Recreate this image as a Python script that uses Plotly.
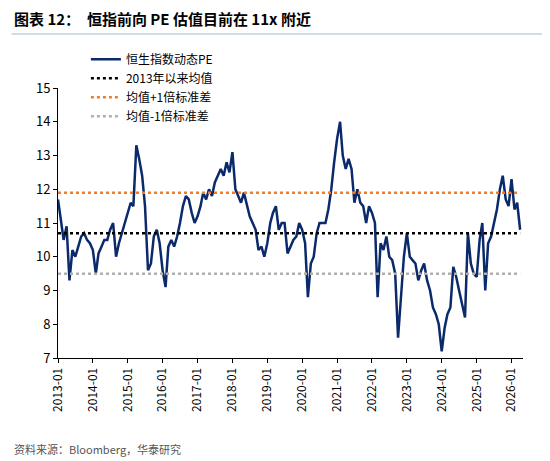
import pandas as pd
import plotly.graph_objects as go

# Monthly PE readings, 2013-01 .. 2026-04
pe_values = [
    11.7, 11.0, 10.5, 10.9, 9.3, 10.2, 10.0, 10.3, 10.6, 10.7, 10.5, 10.4,  # 2013
    10.2, 9.5, 10.1, 10.3, 10.5, 10.5, 10.8, 11.0, 10.0, 10.4, 10.7, 11.0,  # 2014
    11.3, 11.6, 11.5, 13.3, 12.9, 12.4, 11.5, 9.6, 9.8, 10.6, 10.8, 10.4,  # 2015
    9.6, 9.1, 10.3, 10.5, 10.3, 10.6, 11.0, 11.5, 11.8, 11.7, 11.3, 11.0,  # 2016
    11.2, 11.5, 11.9, 11.7, 12.0, 11.8, 12.2, 12.4, 12.6, 12.4, 12.8, 12.5,  # 2017
    13.1, 12.0, 11.8, 11.6, 11.9, 11.5, 11.2, 11.0, 10.8, 10.2, 10.3, 10.0,  # 2018
    10.4, 11.0, 11.3, 11.5, 10.8, 11.0, 11.0, 10.1, 10.3, 10.5, 10.6, 11.0,  # 2019
    10.8, 10.4, 8.8, 9.8, 10.0, 10.7, 11.0, 11.0, 11.0, 11.4, 12.0, 12.8,  # 2020
    13.5, 14.0, 13.0, 12.6, 12.9, 12.6, 11.6, 12.0, 11.6, 11.5, 11.0, 11.5,  # 2021
    11.3, 11.0, 8.8, 10.4, 10.2, 10.6, 10.0, 9.9, 9.5, 7.6, 9.0, 10.0,  # 2022
    10.7, 10.0, 9.9, 9.8, 9.3, 9.6, 9.8, 9.3, 9.0, 8.5, 8.3, 8.0,  # 2023
    7.2, 7.9, 8.3, 8.5, 9.7, 9.4, 9.0, 8.6, 8.2, 10.7, 9.8, 9.5,  # 2024
    9.4, 10.5, 11.0, 9.0, 10.4, 10.6, 11.0, 11.4, 12.0, 12.4, 11.7, 11.5,  # 2025
    12.3, 11.4, 11.6, 10.8,  # 2026
]
dates = pd.date_range("2013-01-01", periods=len(pe_values), freq="MS")

mean_pe = 10.7
plus_1sd = 11.9
minus_1sd = 9.5

tick_labels = [f"{y}-01" for y in range(2013, 2027)]
tick_dates = [f"{y}-01-01" for y in range(2013, 2027)]

fig = go.Figure()
fig.add_trace(go.Scatter(
    x=dates, y=pe_values, mode="lines", name="恒生指数动态PE",
    line=dict(color="#0b2a6b", width=2.5),
))
fig.add_trace(go.Scatter(
    x=[dates[0], dates[-1]], y=[mean_pe, mean_pe], mode="lines",
    name="2013年以来均值", line=dict(color="black", width=2.5, dash="dot"),
))
fig.add_trace(go.Scatter(
    x=[dates[0], dates[-1]], y=[plus_1sd, plus_1sd], mode="lines",
    name="均值+1倍标准差", line=dict(color="#ed7d31", width=2.5, dash="dot"),
))
fig.add_trace(go.Scatter(
    x=[dates[0], dates[-1]], y=[minus_1sd, minus_1sd], mode="lines",
    name="均值-1倍标准差", line=dict(color="#b0b0b0", width=2.5, dash="dot"),
))

font = "Noto Sans CJK SC"
fig.update_layout(
    width=550, height=461,
    margin=dict(l=50, r=35, t=80, b=111),
    plot_bgcolor="white", paper_bgcolor="white",
    font=dict(family=font, size=12, color="black"),
    showlegend=True,
    legend=dict(
        orientation="h", x=0.06, y=1.16, xanchor="left", yanchor="top",
        entrywidth=190, font=dict(size=12), tracegroupgap=0,
    ),
    xaxis=dict(
        range=["2013-01-01", "2026-05-01"],
        tickvals=tick_dates, ticktext=tick_labels, tickangle=-90,
        showgrid=False, showline=True, linecolor="black", ticks="outside",
        ticklen=4, tickcolor="black", tickfont=dict(size=12),
    ),
    yaxis=dict(
        range=[7, 15], dtick=1, showgrid=False, showline=True,
        linecolor="black", ticks="outside", ticklen=4, tickcolor="black",
        tickfont=dict(size=13),
    ),
)
fig.add_annotation(
    xref="paper", yref="paper", x=-0.1, y=1.21, xanchor="left",
    yanchor="bottom", showarrow=False,
    text="<b>图表 12：  恒指前向 PE 估值目前在 11x 附近</b>",
    font=dict(size=15, color="black", family=font),
)
fig.add_shape(
    type="line", xref="paper", yref="paper", x0=-0.1, x1=1.065,
    y0=1.2, y1=1.2, line=dict(color="#9db7d5", width=1),
)
fig.add_annotation(
    xref="paper", yref="paper", x=-0.1, y=-0.3, xanchor="left",
    yanchor="top", showarrow=False,
    text="资料来源：Bloomberg，华泰研究",
    font=dict(size=11, color="#555555", family=font),
)

fig.write_html("out.html")
